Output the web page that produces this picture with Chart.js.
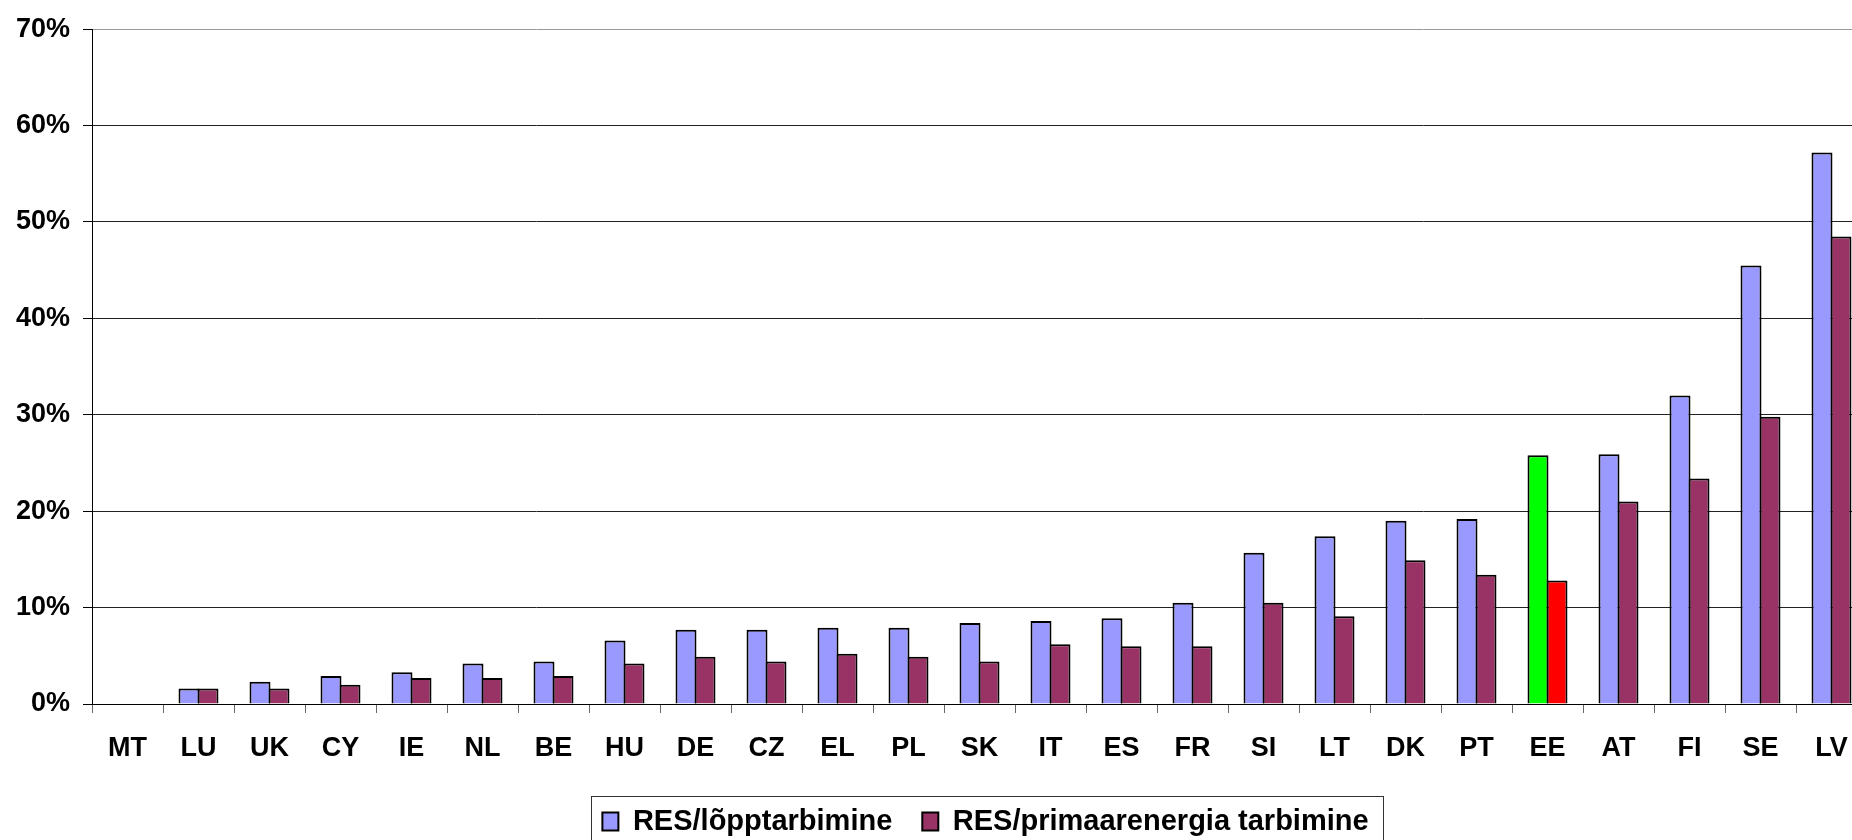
<!DOCTYPE html>
<html>
<head>
<meta charset="utf-8">
<script src="https://cdn.jsdelivr.net/npm/chart.js@4/dist/chart.umd.min.js"></script>
<style>
html,body{margin:0;padding:0;width:1852px;height:840px;overflow:hidden;background:#fff}
#wrap{position:absolute;left:0;top:0;width:1880px;height:846px}
</style>
</head>
<body>
<div id="wrap"><canvas id="c" width="1880" height="846"></canvas></div>
<script>
// ---- data ----
const categories = ['MT','LU','UK','CY','IE','NL','BE','HU','DE','CZ','EL','PL','SK','IT','ES','FR','SI','LT','DK','PT','EE','AT','FI','SE','LV'];
const finalShare   = [0, 1.6, 2.3, 2.9, 3.3, 4.2, 4.4, 6.6, 7.7, 7.7, 7.9, 7.9, 8.4, 8.6, 8.9, 10.5, 15.7, 17.4, 19.0, 19.2, 25.8, 25.9, 32.0, 45.5, 57.2];
const primaryShare = [0, 1.6, 1.6, 2.0, 2.7, 2.7, 2.9, 4.2, 4.9, 4.4, 5.2, 4.9, 4.4, 6.2, 6.0, 6.0, 10.5, 9.1, 14.9, 13.4, 12.8, 21.0, 23.4, 29.8, 48.5];
const yTicks = [0, 10, 20, 30, 40, 50, 60, 70];
const seriesNames = ['RES/lõpptarbimine', 'RES/primaarenergia tarbimine'];
const highlightCategory = 'EE';

// ---- styles ----
const FONT = '"Liberation Sans", Arial, sans-serif';
const colFinal = '#9999FF', colPrimary = '#993366';
const colFinalHi = '#00FF00', colPrimaryHi = '#FF0000';

const legendBorder = {
  id: 'legendBorder',
  afterLayout(chart) {
    const lg = chart.legend;
    if (!lg || !lg.lineWidths) return;
    const pad = lg.options.labels.padding;
    const start = (lg.left + pad + lg.right - lg.lineWidths[0]) / 2;
    const end = start + lg.lineWidths[0] - pad;
    const dx = 985.5 - (start + end) / 2;
    lg.left += dx; lg.right += dx;
  },
  afterDraw(chart) {
    const lg = chart.legend;
    if (!lg || !lg.lineWidths) return;
    const pad = lg.options.labels.padding;
    const start = (lg.left + pad + lg.right - lg.lineWidths[0]) / 2;
    const end = start + lg.lineWidths[0] - pad;
    const ctx = chart.ctx;
    ctx.save();
    ctx.strokeStyle = '#333';
    ctx.lineWidth = 1;
    const l = Math.round(start - 11) + 0.5, r = Math.round(end + 14) + 0.5;
    const t = Math.round(lg.top + 19) + 0.5;
    ctx.strokeRect(l, t, r - l, chart.height + 10 - t);
    ctx.restore();
  }
};

new Chart(document.getElementById('c'), {
  type: 'bar',
  data: {
    labels: categories,
    datasets: [
      {
        label: seriesNames[0],
        data: finalShare,
        backgroundColor: c => categories[c.dataIndex] === highlightCategory ? colFinalHi : colFinal,
        borderColor: '#000',
        borderWidth: 2
      },
      {
        label: seriesNames[1],
        data: primaryShare,
        backgroundColor: c => categories[c.dataIndex] === highlightCategory ? colPrimaryHi : colPrimary,
        borderColor: '#000',
        borderWidth: 2
      }
    ]
  },
  options: {
    responsive: false,
    animation: false,
    devicePixelRatio: 1,
    layout: { padding: { top: 25, right: 13, left: 0, bottom: 0 } },
    datasets: { bar: { categoryPercentage: 0.535, barPercentage: 1.105 } },
    plugins: {
      tooltip: { enabled: false },
      legend: {
        position: 'bottom',
        labels: {
          boxWidth: 16,
          boxHeight: 18,
          padding: 30,
          color: '#000',
          font: { family: FONT, size: 29, weight: 'bold' }
        }
      }
    },
    scales: {
      x: {
        grid: {
          offset: true,
          drawOnChartArea: false,
          drawTicks: true,
          tickLength: 9,
          color: '#666',
          tickColor: '#666'
        },
        border: { display: true, color: '#000', width: 1 },
        ticks: {
          color: '#000',
          padding: 19,
          maxRotation: 0,
          autoSkip: false,
          font: { family: FONT, size: 27, weight: 'bold' }
        },
        afterFit(scale) { scale.height = 73; }
      },
      y: {
        min: 0,
        max: 70,
        afterBuildTicks(scale) { scale.ticks = yTicks.map(v => ({ value: v })); },
        grid: {
          color: c => (c.tick && c.tick.value === 70) ? '#999' : '#222',
          tickColor: '#000',
          tickLength: 9,
          lineWidth: 1
        },
        border: { display: true, color: '#000', width: 1 },
        ticks: {
          color: '#000',
          padding: 13,
          callback: v => v + '%',
          font: { family: FONT, size: 27, weight: 'bold' }
        },
        afterFit(scale) { scale.width = 92; }
      }
    }
  },
  plugins: [legendBorder]
});
</script>
</body>
</html>
